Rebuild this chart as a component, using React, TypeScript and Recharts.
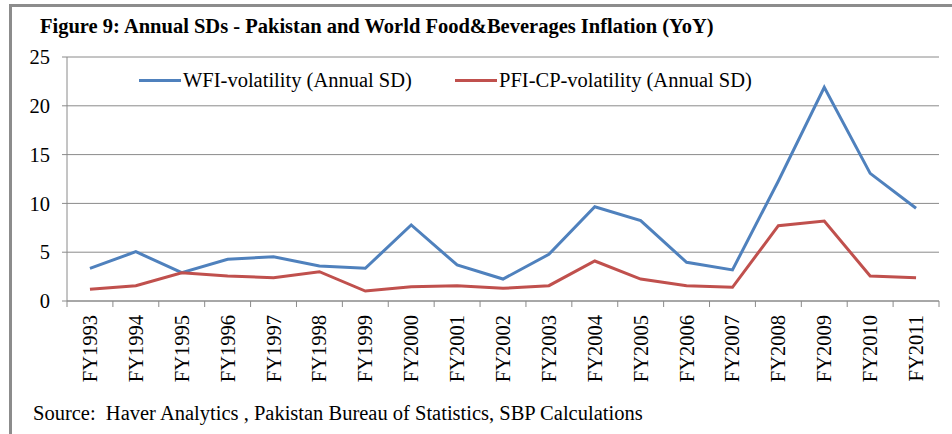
import React from 'react';
import { LineChart, Line, XAxis, YAxis, CartesianGrid } from 'recharts';

const years = [
  'FY1993', 'FY1994', 'FY1995', 'FY1996', 'FY1997', 'FY1998', 'FY1999', 'FY2000', 'FY2001', 'FY2002',
  'FY2003', 'FY2004', 'FY2005', 'FY2006', 'FY2007', 'FY2008', 'FY2009', 'FY2010', 'FY2011',
];

const wfiVolatility = [3.35, 5.05, 2.9, 4.27, 4.54, 3.59, 3.35, 7.79, 3.69, 2.25, 4.78, 9.66, 8.23, 3.96, 3.18, 12.3, 21.9, 13.08, 9.5];
const pfiVolatility = [1.2, 1.57, 2.9, 2.56, 2.39, 3.0, 1.02, 1.47, 1.57, 1.3, 1.57, 4.1, 2.25, 1.57, 1.4, 7.72, 8.2, 2.56, 2.39];

const yTicks = [0, 5, 10, 15, 20, 25];

const series = [
  { key: 'wfi', name: 'WFI-volatility (Annual SD)', color: '#4F81BD' },
  { key: 'pfi', name: 'PFI-CP-volatility (Annual SD)', color: '#C0504D' },
];

const data = years.map((year, i) => ({ year, wfi: wfiVolatility[i], pfi: pfiVolatility[i] }));

const W = 952;
const H = 434;
const PLOT_LEFT = 67;
const PLOT_RIGHT = 939;
const FONT = '"Liberation Serif", "Times New Roman", serif';
const GRID = '#8a8a8a';

// category width: points sit mid-category, tick marks go between categories (Excel style)
const band = (PLOT_RIGHT - PLOT_LEFT) / years.length;

const XTick = (props: any) => {
  const { x, y, payload, index } = props;
  const left = x - band / 2;
  const isLast = index === years.length - 1;
  return (
    <g>
      <line x1={left} y1={y - 8} x2={left} y2={y - 2} stroke={GRID} />
      {isLast && <line x1={x + band / 2} y1={y - 8} x2={x + band / 2} y2={y - 2} stroke={GRID} />}
      <text
        transform={`translate(${x},${y + 6}) rotate(-90)`}
        textAnchor="end"
        dominantBaseline="central"
        fontFamily={FONT}
        fontSize={20.5}
        fill="#000"
      >
        {payload.value}
      </text>
    </g>
  );
};

export default function App() {
  return (
    <div style={{ position: 'absolute', left: 0, top: 0, width: W, height: H, background: '#fff', overflow: 'hidden', fontFamily: FONT }}>
      <div style={{ position: 'absolute', left: 9, top: 4, width: W, height: H, borderLeft: '3px solid #8c8c8c', borderTop: '3px solid #8c8c8c' }} />
      <div style={{ position: 'absolute', left: 40, top: 14, fontSize: 20.5, fontWeight: 'bold', whiteSpace: 'nowrap', lineHeight: '24px' }}>
        Figure 9: Annual SDs - Pakistan and World Food&amp;Beverages Inflation (YoY)
      </div>
      <LineChart
        width={W}
        height={H}
        data={data}
        margin={{ top: 57, right: W - PLOT_RIGHT, left: 0, bottom: 53 }}
        style={{ position: 'absolute', left: 0, top: 0 }}
      >
        <CartesianGrid vertical={false} stroke={GRID} strokeWidth={1} />
        <XAxis
          dataKey="year"
          height={80}
          interval={0}
          padding={{ left: band / 2, right: band / 2 }}
          axisLine={{ stroke: GRID }}
          tickLine={false}
          tick={<XTick />}
        />
        <YAxis
          width={PLOT_LEFT}
          domain={[0, 25]}
          ticks={yTicks}
          axisLine={{ stroke: GRID }}
          tickLine={{ stroke: GRID }}
          tickSize={5}
          tickMargin={12}
          tick={{ fontFamily: FONT, fontSize: 20.5, fill: '#000' }}
        />
        {series.map((s) => (
          <Line
            key={s.key}
            type="linear"
            dataKey={s.key}
            name={s.name}
            stroke={s.color}
            strokeWidth={3}
            dot={false}
            activeDot={false}
            isAnimationActive={false}
          />
        ))}
      </LineChart>
      {series.map((s, i) => (
        <div
          key={s.key}
          style={{ position: 'absolute', left: i === 0 ? 139 : 455, top: 67, display: 'flex', alignItems: 'center', fontSize: 20.5, whiteSpace: 'nowrap', lineHeight: '26px' }}
        >
          <span style={{ display: 'inline-block', width: 42, height: 3, background: s.color, marginRight: 2 }} />
          {s.name}
        </div>
      ))}
      <div style={{ position: 'absolute', left: 33, top: 401, fontSize: 20.5, whiteSpace: 'nowrap', lineHeight: '24px' }}>
        Source:&nbsp; Haver Analytics , Pakistan Bureau of Statistics, SBP Calculations
      </div>
    </div>
  );
}
